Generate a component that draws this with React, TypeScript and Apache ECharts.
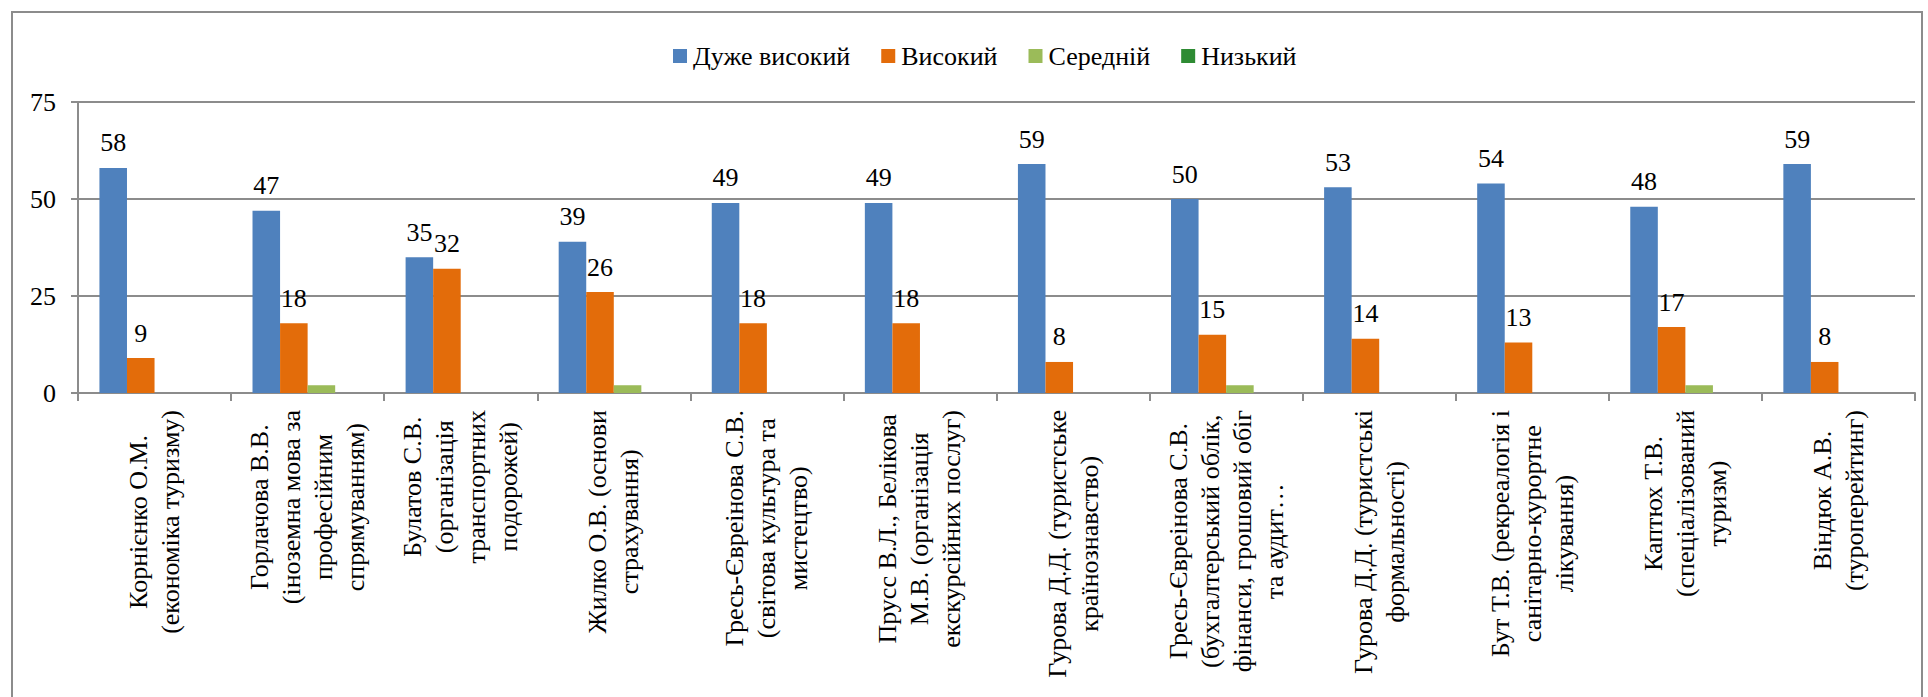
import React, { useEffect, useRef } from "react";
import * as echarts from "echarts";

const categories: string[] = [
  "Корнієнко О.М.\n(економіка туризму)",
  "Горлачова В.В.\n(іноземна мова за\nпрофесійним\nспрямуванням)",
  "Булатов С.В.\n(організація\nтранспортних\nподорожей)",
  "Жилко О.В. (основи\nстрахування)",
  "Гресь-Євреінова С.В.\n(світова культура та\nмистецтво)",
  "Прусс В.Л., Белікова\nМ.В. (організація\nекскурсійних послуг)",
  "Гурова Д.Д. (туристське\nкраїнознавство)",
  "Гресь-Євреінова С.В.\n(бухгалтерський облік,\nфінанси, грошовий обіг\nта аудит…",
  "Гурова Д.Д. (туристські\nформальності)",
  "Бут Т.В. (рекреалогія і\nсанітарно-курортне\nлікування)",
  "Каптюх Т.В.\n(спеціалізований\nтуризм)",
  "Віндюк А.В.\n(туроперейтинг)",
];

const seriesNames: string[] = ["Дуже високий", "Високий", "Середній", "Низький"];
const veryHigh: number[] = [58, 47, 35, 39, 49, 49, 59, 50, 53, 54, 48, 59];
const high: number[] = [9, 18, 32, 26, 18, 18, 8, 15, 14, 13, 17, 8];
const medium: number[] = [0, 2, 0, 2, 0, 0, 0, 2, 0, 0, 2, 0];
const low: number[] = [0, 0, 0, 0, 0, 0, 0, 0, 0, 0, 0, 0];
const yTicks = { min: 0, max: 75, interval: 25 };

const FONT = "Liberation Serif";
const colors = ["#4F81BD", "#E36C0A", "#9BBB59", "#2E8B33"];
const GRAY = "#8c8c8c";

export default function App() {
  const ref = useRef<HTMLDivElement>(null);
  useEffect(() => {
    if (!ref.current) return;
    const chart = echarts.init(ref.current, undefined, { renderer: "svg" });
    const values = [veryHigh, high, medium, low];
    chart.setOption({
      animation: false,
      color: colors,
      textStyle: { fontFamily: FONT },
      graphic: [
        {
          type: "rect",
          shape: { x: 12, y: 12, width: 1910, height: 720 },
          style: { fill: "none", stroke: GRAY, lineWidth: 2 },
          silent: true,
        },
      ],
      legend: {
        top: 38,
        left: 668,
        itemWidth: 14,
        itemHeight: 14,
        itemGap: 31,
        icon: "rect",
        textStyle: { fontFamily: FONT, fontSize: 26, color: "#000", padding: [0, 0, 0, 1] },
        data: seriesNames,
      },
      grid: { left: 78, right: 13, top: 102, bottom: 304, containLabel: false },
      xAxis: {
        type: "category",
        data: categories,
        axisLine: { lineStyle: { color: GRAY, width: 2 } },
        axisTick: { show: true, length: 8, lineStyle: { color: GRAY, width: 2 } },
        axisLabel: {
          interval: 0,
          rotate: 90,
          margin: 17,
          fontFamily: FONT,
          fontSize: 26,
          formatter: (v: string) =>
            v
              .split("\n")
              .map((l) => `{c|${l}}`)
              .join("\n"),
          rich: {
            c: {
              align: "center",
              fontFamily: FONT,
              fontSize: 26,
              lineHeight: 32,
              color: "#000",
            },
          },
        },
      },
      yAxis: {
        type: "value",
        min: yTicks.min,
        max: yTicks.max,
        interval: yTicks.interval,
        axisLine: { show: true, lineStyle: { color: GRAY, width: 2 } },
        axisTick: { show: true, length: 7, lineStyle: { color: GRAY, width: 2 } },
        axisLabel: { fontFamily: FONT, fontSize: 26, color: "#000", margin: 22 },
        splitLine: { lineStyle: { color: GRAY, width: 2 } },
      },
      series: seriesNames.map((name, i) => ({
        name,
        type: "bar",
        data: values[i],
        barGap: "0%",
        barCategoryGap: "28%",
        itemStyle: { color: colors[i] },
        label: {
          show: i < 2,
          position: "top",
          distance: 12,
          fontFamily: FONT,
          fontSize: 26,
          color: "#000",
        },
      })),
    });
    return () => chart.dispose();
  }, []);
  return (
    <div
      ref={ref}
      style={{ position: "fixed", left: 0, top: 0, width: 1928, height: 697, background: "#fff" }}
    />
  );
}
